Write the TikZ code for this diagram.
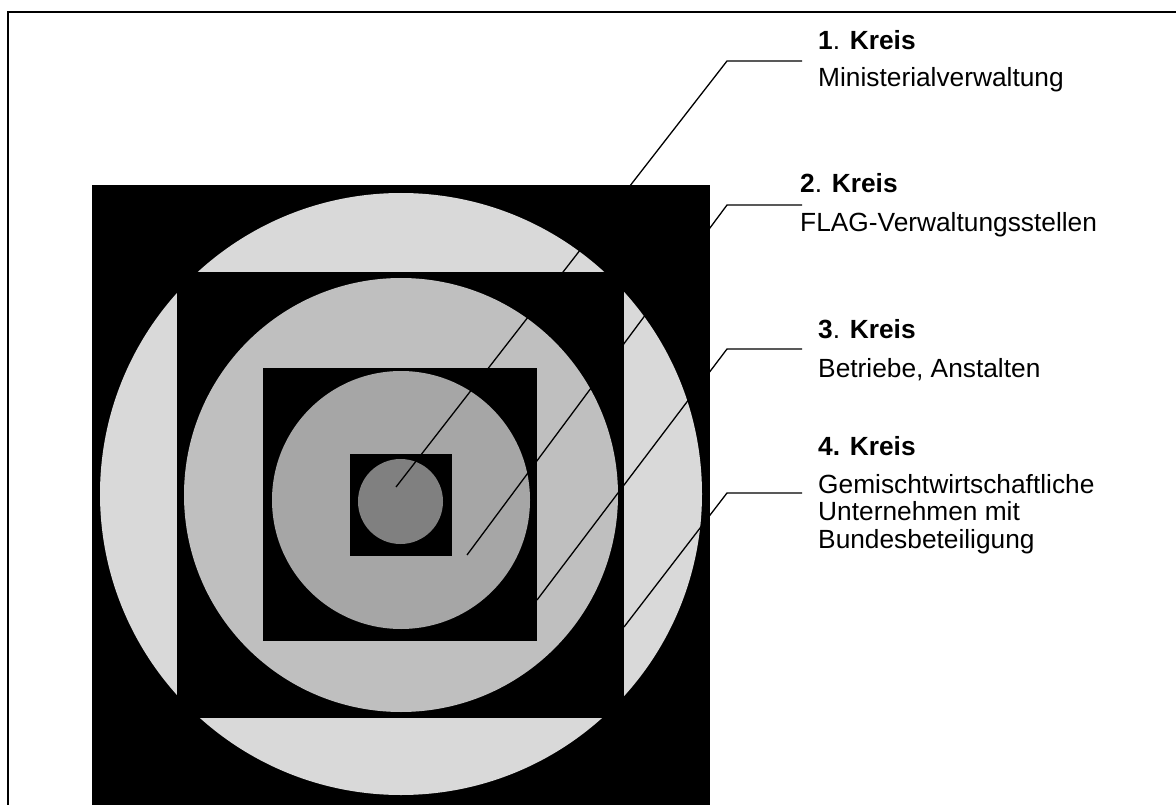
\documentclass[tikz,border=0pt]{standalone}
\usepackage{fontspec}
\setmainfont{Liberation Sans}
\definecolor{ringA}{HTML}{D9D9D9}
\definecolor{ringB}{HTML}{BFBFBF}
\definecolor{ringC}{HTML}{A6A6A6}
\definecolor{ringD}{HTML}{808080}
\begin{document}
\begin{tikzpicture}[x=1pt,y=-1pt,
  frame/.style={line width=2.2pt},
  leader/.style={line width=1.3pt},
  lbl/.style={anchor=base west,inner sep=0pt,
    font=\fontsize{26.3}{27.5}\selectfont,align=left}]
\useasboundingbox (0,0) rectangle (1176,805);
\fill[white] (0,0) rectangle (1176,805);
% page frame (top and left edges)
\draw[frame] (8,805) -- (8,12) -- (1176,12);

% nested squares and circles
\fill[black] (92,185) rectangle (710,805);
\fill[ringA] (401,494) circle[radius=301];
\fill[black] (177,272) rectangle (624,718);
\fill[ringB] (401,495) circle[radius=217];
\fill[black] (263,368) rectangle (537,641);
\fill[ringC] (401,500) circle[radius=129];
\fill[black] (350,454) rectangle (452,556);
\fill[ringD] (400.5,501.5) circle[radius=42.5];

% labels
\node[lbl] (t1) at (818,50) {\textbf{1}. \textbf{Kreis}};
\node[lbl] (b1) at (818,87) {Ministerialverwaltung};
\node[lbl] (t2) at (800,193) {\textbf{2}. \textbf{Kreis}};
\node[lbl] (b2) at (800,232) {FLAG-Verwaltungsstellen};
\node[lbl] (t3) at (818,338) {\textbf{3}. \textbf{Kreis}};
\node[lbl] (b3) at (818,377) {Betriebe, Anstalten};
\node[lbl] (t4) at (818,455) {\textbf{4. Kreis}};
% a multi-line node sits on the baseline of its last line
\node[lbl] (b4) at (818,548) {Gemischtwirtschaftliche\\Unternehmen mit\\Bundesbeteiligung};

% leader lines
\coordinate (p1) at (396,487);  \coordinate (e1) at (727,61);  \coordinate (h1) at (802,61);
\coordinate (p2) at (467,555);  \coordinate (e2) at (727,205); \coordinate (h2) at (802,205);
\coordinate (p3) at (537,600);  \coordinate (e3) at (727,349); \coordinate (h3) at (802,349);
\coordinate (p4) at (624,627);  \coordinate (e4) at (727,493); \coordinate (h4) at (802,493);
\draw[leader] (p1) -- (e1) -- (h1);
\draw[leader] (p2) -- (e2) -- (h2);
\draw[leader] (p3) -- (e3) -- (h3);
\draw[leader] (p4) -- (e4) -- (h4);
\end{tikzpicture}
\end{document}
